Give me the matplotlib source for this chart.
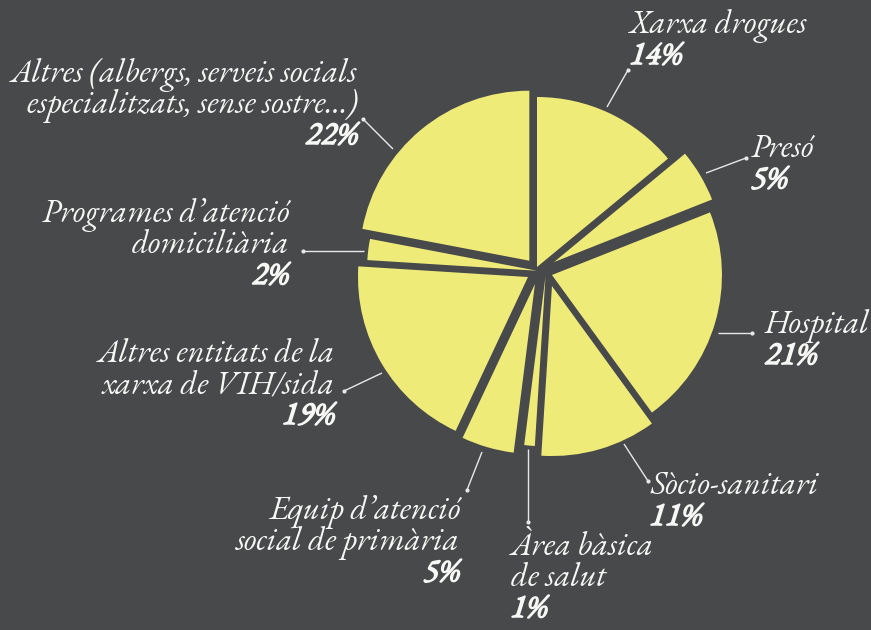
import matplotlib
matplotlib.use("Agg")
import matplotlib.pyplot as plt
import matplotlib.patheffects as pe

# ---- data ----
categories = ["Xarxa drogues", "Presó", "Hospital", "Sòcio-sanitari",
              "Àrea bàsica de salut", "Equip d’atenció social de primària",
              "Altres entitats de la xarxa de VIH/sida",
              "Programes d’atenció domiciliària",
              "Altres (albergs, serveis socials especialitzats, sense sostre…)"]
values = [14, 5, 21, 11, 1, 5, 19, 2, 22]
label_lines = [["Xarxa drogues"], ["Presó"], ["Hospital"], ["Sòcio-sanitari"],
               ["Àrea bàsica", "de salut"],
               ["Equip d’atenció", "social de primària"],
               ["Altres entitats de la", "xarxa de VIH/sida"],
               ["Programes d’atenció", "domiciliària"],
               ["Altres (albergs, serveis socials", "especialitzats, sense sostre…)"]]
pct_labels = [f"{v}%" for v in values]

# ---- style / layout ----
BG = "#48494B"
YELLOW = "#EFEB78"
TXT = "#F7F7F5"
W, H = 871, 630
CX, CY, S = 537, 267, 170  # pie centre (px) and radius (px)

# per-slice offsets of wedge centres, in radius units (x right, y up)
offsets = [(0.0, 0.0), (0.100, 0.029), (0.088, -0.047), (0.088, -0.112),
           (0.050, -0.055), (-0.012, -0.100), (-0.053, -0.059),
           (0.0, -0.022), (-0.045, 0.037)]

# label layout in pixels: (ha, x, first baseline, line step)
label_pos = [("left", 630, 33, 31), ("left", 751, 157, 31),
             ("left", 765, 333, 31), ("left", 650, 494, 31),
             ("left", 511, 555, 31), ("right", 460, 519, 31),
             ("right", 335, 362, 31), ("right", 289, 222, 31),
             ("right", 358, 82, 31)]
# leader lines in pixels: (from slice, to dot)
leaders = [((607, 107), (628, 70)), ((706, 173), (746, 158)),
           ((718, 333), (752, 333)), ((624, 444), (648, 481)),
           ((528, 449), (528, 522)), ((482, 452), (467, 490)),
           ((382, 373), (344, 391)), ((364, 251), (303, 251)),
           ((393, 149), (363, 119))]


def P(px, py):
    return (px - CX) / S, (CY - py) / S


fig = plt.figure(figsize=(W / 100, H / 100), dpi=100, facecolor=BG)
ax = fig.add_axes([0, 0, 1, 1])
ax.set_facecolor(BG)

wedges, _ = ax.pie(values, startangle=90, counterclock=False, radius=1,
                   colors=[YELLOW] * len(values),
                   wedgeprops=dict(linewidth=0, antialiased=True))
for w, off in zip(wedges, offsets):
    w.set_center(off)

ax.set_xlim((0 - CX) / S, (W - CX) / S)
ax.set_ylim((CY - H) / S, CY / S)
ax.set_aspect("auto")
ax.axis("off")

FONT = ["EB Garamond", "DejaVu Serif"]
FS = 23.5
bold = [pe.withStroke(linewidth=1.1, foreground=TXT)]
for lines, pct, (ha, x, y0, step) in zip(label_lines, pct_labels, label_pos):
    for i, ln in enumerate(lines):
        ax.text(*P(x, y0 + i * step), ln, ha=ha, va="baseline", color=TXT,
                fontsize=FS, fontstyle="italic", family=FONT)
    ax.text(*P(x, y0 + len(lines) * step), pct, ha=ha, va="baseline",
            color=TXT, fontsize=FS, fontstyle="italic",
            fontweight="bold", family=FONT, path_effects=bold)

for (a, b) in leaders:
    xa, ya = P(*a)
    xb, yb = P(*b)
    ax.plot([xa, xb], [ya, yb], color="#E8E8E8", lw=1.0,
            solid_capstyle="butt")
    ax.plot([xb], [yb], "o", color="#E8E8E8", ms=3, mew=0)

fig.savefig("out.png", dpi=100, facecolor=BG)
